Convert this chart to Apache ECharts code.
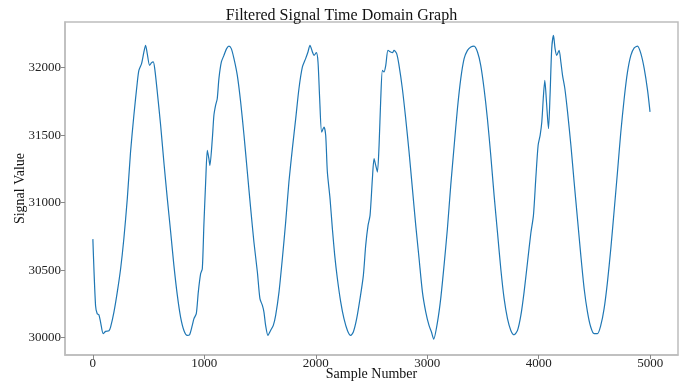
<!DOCTYPE html>
<html>
<head>
<meta charset="utf-8">
<script src="https://cdn.jsdelivr.net/npm/echarts@6/dist/echarts.min.js"></script>
<style>html,body{margin:0;padding:0;background:#fff}#c{width:683px;height:381px}</style>
</head>
<body>
<div id="c"></div>
<script>
const sampleIdx = [0,24,39,54,69,93,114,144,159,189,219,249,278,309,338,368,399,413,437,458,473,488,509,527,542,557,578,608,637,668,698,727,758,787,817,847,868,892,907,928,946,967,982,996,1012,1027,1041,1050,
1072,1086,1101,1116,1131,1153,1176,1200,1221,1242,1266,1296,1326,1356,1386,1416,1445,1476,1499,1521,1535,1550,1571,1595,1619,1640,1670,1700,1730,1759,1790,1820,1849,1880,1909,1930,1948,1970,1984,2005,2020,2035,2053,2074,2089,
2104,2128,2149,2170,2194,2224,2253,2284,2313,2337,2367,2397,2427,2448,2469,2487,2508,2523,2538,2553,2568,2583,2598,2612,2628,2648,2672,2688,2702,2726,2747,2777,2807,2837,2867,2897,2927,2957,2987,3016,3038,3058,
3092,3121,3151,3181,3211,3242,3271,3301,3331,3361,3391,3420,3451,3480,3510,3540,3570,3600,3630,3660,3690,3720,3750,3779,3810,3840,3869,3900,3929,3953,3974,3995,4013,4028,4043,4055,4070,4088,4102,4117,4133,4147,4162,4183,4199,4214,4235,4259,4289,4318,4348,4378,4408,4438,4467,4497,4527,4557,4587,4617,4647,4676,4707,4737,4767,4797,4827,4857,4887,4917,4947,4977,4999];
const signalValues = [30730,30239,30178,30170,30116,30030,30047,30052,30079,30190,30338,30511,30733,31030,31375,31647,31894,31980,32030,32116,32165,32104,32017,32037,32042,31980,31820,31573,31301,31030,30783,30536,30313,30153,30054,30017,30022,30091,30141,30178,30338,30474,30511,30832,31153,31387,31326,31276,
31474,31647,31721,31770,31919,32042,32091,32141,32160,32141,32067,31943,31746,31499,31227,30956,30709,30487,30289,30239,30190,30091,30017,30054,30091,30165,30338,30585,30857,31153,31400,31622,31844,32005,32067,32116,32165,32116,32091,32111,32042,31770,31523,31560,31499,
31227,31030,30807,30610,30437,30264,30141,30054,30017,30042,30141,30289,30462,30684,30832,30906,31178,31326,31276,31227,31425,31770,31980,31968,32017,32128,32116,32111,32128,32104,32017,31844,31622,31375,31104,30832,30585,30338,30190,30091,30042,29990,
30116,30289,30536,30807,31128,31425,31696,31919,32067,32128,32153,32160,32116,32017,31844,31622,31351,31054,30783,30511,30289,30141,30054,30022,30054,30165,30338,30561,30770,30906,31178,31425,31499,31598,31795,31906,31746,31548,31795,32141,32239,32141,32091,32128,32042,31943,31844,31672,31425,31153,30881,30610,30363,30190,30079,30030,30030,30091,30215,30412,30659,30931,31227,31523,31770,31968,32091,32146,32160,32104,31993,31832,31672];
const xTicks = [0,1000,2000,3000,4000,5000];
const yTicks = [30000,30500,31000,31500,32000];

const chart = echarts.init(document.getElementById('c'), null, {renderer:'canvas'});
const serif = 'Liberation Serif';
const spine = '#bdbdbd';
chart.setOption({
  animation:false,
  title:{text:'Filtered Signal Time Domain Graph', left:'center', top:3,
    textStyle:{fontFamily:serif, fontSize:16, fontWeight:'normal', color:'#111'}},
  grid:{left:65, right:5, top:22, bottom:26, show:true, borderColor:spine, borderWidth:1.5,
    containLabel:false, outerBoundsMode:'none'},
  xAxis:{type:'value', min:-250, max:5250,
    name:'Sample Number', nameLocation:'middle', nameGap:12, nameMoveOverlap:false,
    nameTextStyle:{fontFamily:serif, fontSize:14, color:'#111'},
    axisLine:{show:true, onZero:false, lineStyle:{color:spine, width:1.5}},
    axisTick:{show:true, customValues:xTicks, length:4, lineStyle:{color:'#888'}},
    axisLabel:{customValues:xTicks, formatter:v=>String(v), fontFamily:serif, fontSize:13, color:'#222', margin:2},
    splitLine:{show:false}},
  yAxis:{type:'value', min:29872, max:32338,
    name:'Signal Value', nameLocation:'middle', nameGap:38, nameMoveOverlap:false,
    nameTextStyle:{fontFamily:serif, fontSize:14, color:'#111'},
    axisLine:{show:true, onZero:false, lineStyle:{color:spine, width:1.5}},
    axisTick:{show:true, customValues:yTicks, length:4, lineStyle:{color:'#888'}},
    axisLabel:{customValues:yTicks, formatter:v=>String(v), fontFamily:serif, fontSize:13, color:'#222', margin:4},
    splitLine:{show:false}},
  series:[{type:'line', data:sampleIdx.map((x,i)=>[x, signalValues[i]]),
    showSymbol:false, smooth:0.25, lineStyle:{color:'#1f77b4', width:1.2}}]
});
</script>
</body>
</html>
